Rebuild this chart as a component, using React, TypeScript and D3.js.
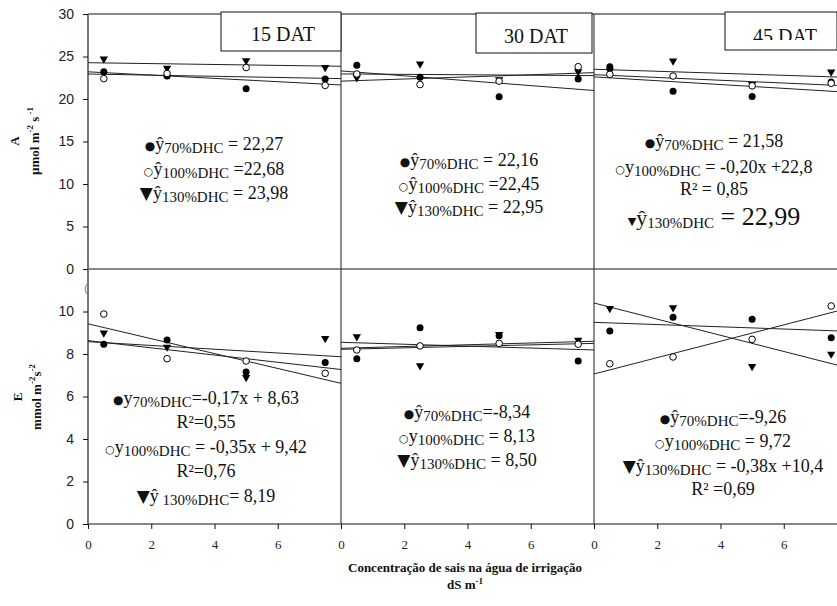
import React, { useEffect, useRef } from "react";
import * as d3 from "d3";

const W = 837, H = 606;

// salt levels (dS m-1) where the points sit
const salinity = [0.5, 2.5, 5, 7.5];
const xTicks = [0, 2, 4, 6];
const aTicks = [0, 5, 10, 15, 20, 25, 30];
const eTicks = [0, 2, 4, 6, 8, 10];
const dayLabels = ["15 DAT", "30 DAT", "45 DAT"];

// A (umol m-2 s-1), one row per DAT panel
const a70 = [[23.2, 22.7, 21.2, 22.35], [23.96, 22.55, 20.27, 22.35], [23.8, 20.9, 20.3, 22.0]];
const a100 = [[22.4, 23.0, 23.7, 21.6], [22.94, 21.7, 22.1, 23.8], [22.9, 22.7, 21.55, 21.85]];
const a130 = [[24.6, 23.5, 24.4, 23.6], [22.4, 24.0, 22.15, 23.1], [23.2, 24.35, 21.6, 23.06]];
// fitted lines, value at x=0 and x=8
const aFits = [
  [[24.27, 23.85], [23.2, 21.65], [22.94, 22.4]],
  [[23.3, 21.0], [22.95, 22.75], [22.1, 23.1]],
  [[23.5, 22.55], [22.86, 21.55], [22.6, 20.8]],
];

// E (mmol m-2 s-1)
const e70 = [[8.46, 8.66, 7.15, 7.6], [7.78, 9.24, 8.86, 7.67], [9.08, 9.73, 9.63, 8.77]];
const e100 = [[9.88, 7.78, 7.67, 7.09], [8.19, 8.38, 8.5, 8.46], [7.54, 7.86, 8.69, 10.26]];
const e130 = [[8.94, 8.28, 6.85, 8.69], [8.77, 7.4, 8.88, 8.61], [10.1, 10.13, 7.37, 7.95]];
const eFits = [
  [[8.63, 7.27], [9.42, 6.62], [8.58, 7.87]],
  [[8.55, 8.19], [8.27, 8.6], [8.22, 8.5]],
  [[9.49, 9.07], [7.06, 10.14], [10.4, 7.36]],
];

// equation texts: [marker, y symbol, subscript, rest]
const aNotes = [
  [["●", "ŷ", "70%DHC", " = 22,27"], ["○", "ŷ", "100%DHC", " =22,68"], ["▼", "ŷ", "130%DHC", " = 23,98"]],
  [["●", "ŷ", "70%DHC", " = 22,16"], ["○", "ŷ", "100%DHC", " =22,45"], ["▼", "ŷ", "130%DHC", " = 22,95"]],
  [["●", "ŷ", "70%DHC", " = 21,58"], ["○", "y", "100%DHC", " = -0,20x +22,8"], ["", "", "", "R² = 0,85"], ["▼", "ŷ", "130%DHC", " = 22,99"]],
];
const eNotes = [
  [["●", "y", "70%DHC", "=-0,17x + 8,63"], ["", "", "", "R²=0,55"], ["○", "y", "100%DHC", " = -0,35x + 9,42"], ["", "", "", "R²=0,76"], ["▼", "ŷ", " 130%DHC", "= 8,19"]],
  [["●", "ŷ", "70%DHC", "=-8,34"], ["○", "y", "100%DHC", " = 8,13"], ["▼", "ŷ", "130%DHC", " = 8,50"]],
  [["●", "ŷ", "70%DHC", "=-9,26"], ["○", "y", "100%DHC", " = 9,72"], ["▼", "ŷ", "130%DHC", " = -0,38x +10,4"], ["", "", "", "R² =0,69"]],
];

// layout
const lefts = [88, 341, 594];
const pw = 253;
const topY = 14, midY = 269, botY = 524;
const serif = "Liberation Serif, Times New Roman, serif";
const sans = "Liberation Sans, Arial, sans-serif";
const aNoteCx = [214, 469, 714];
const aNoteY = [[150, 175, 199], [166, 190, 213], [147, 173, 195, 225]];
const eNoteCx = [206, 467, 723];
const eNoteY = [[404, 428, 453, 477, 502], [418, 442, 466], [423, 447, 472, 495]];
const boxes = [[221, 12, 120, 39, 283, 41], [476, 13, 116, 40, 536, 43], [725, 12, 112, 38, 785, 43]];

export default function App() {
  const ref = useRef<SVGSVGElement>(null);

  useEffect(() => {
    const svg = d3.select(ref.current);
    svg.selectAll("*").remove();
    svg.append("rect").attr("width", W).attr("height", H).attr("fill", "#fff");

    svg.append("clipPath").attr("id", "plotclip")
      .append("rect").attr("x", 0).attr("y", 0).attr("width", W).attr("height", H);

    const yA = d3.scaleLinear().domain([0, 30]).range([midY, topY]);
    const yE = d3.scaleLinear().domain([0, 12]).range([botY, midY]);

    // frame lines
    [topY, midY, botY].forEach(y => {
      svg.append("line").attr("x1", 88).attr("x2", W).attr("y1", y).attr("y2", y)
        .attr("stroke", "#111").attr("stroke-width", 1);
    });
    lefts.forEach((l, i) => {
      svg.append("line").attr("x1", l).attr("x2", l).attr("y1", topY).attr("y2", botY)
        .attr("stroke", i == 0 ? "#777" : "#444").attr("stroke-width", i == 0 ? 2 : 1.2);
    });

    // y axes
    const ay = svg.append("g").attr("transform", "translate(88,0)")
      .call(d3.axisLeft(yA).tickValues(aTicks).tickSize(5).tickPadding(9).tickFormat(d3.format("d")));
    const ey = svg.append("g").attr("transform", "translate(88,0)")
      .call(d3.axisLeft(yE).tickValues(eTicks).tickSize(5).tickPadding(9).tickFormat(d3.format("d")));
    [ay, ey].forEach(g => {
      g.attr("font-family", sans).attr("font-size", 14);
      g.select(".domain").remove();
      g.selectAll("line").attr("stroke", "#111");
      g.selectAll("text").attr("fill", "#222");
    });
    // little clipped glyph under the 0
    svg.append("text").attr("x", 84).attr("y", 292).attr("font-family", sans).attr("font-size", 11)
      .attr("fill", "#777").text("(");

    lefts.forEach((left, p) => {
      const x = d3.scaleLinear().domain([0, 8]).range([left, left + pw]);

      const xa = svg.append("g").attr("transform", `translate(0,${botY})`)
        .call(d3.axisBottom(x).tickValues(xTicks).tickSize(5).tickPadding(11).tickFormat(d3.format("d")));
      xa.attr("font-family", serif).attr("font-size", 13);
      xa.select(".domain").remove();
      xa.selectAll("line").attr("stroke", "#111");
      xa.selectAll("text").attr("fill", "#222");

      const line = (ys: d3.ScaleLinear<number, number>) => d3.line<number[]>().x(d => x(d[0])).y(d => ys(d[1]));

      const g = svg.append("g").attr("clip-path", "url(#plotclip)");
      aFits[p].forEach(f => {
        g.append("path").attr("d", line(yA)([[0, f[0]], [8, f[1]]]))
          .attr("fill", "none").attr("stroke", "#222").attr("stroke-width", 1);
      });
      eFits[p].forEach(f => {
        g.append("path").attr("d", line(yE)([[0, f[0]], [8, f[1]]]))
          .attr("fill", "none").attr("stroke", "#222").attr("stroke-width", 1);
      });

      const tri = d3.symbol(d3.symbolTriangle, 30);
      const drawPts = (ys: d3.ScaleLinear<number, number>, v70: number[], v100: number[], v130: number[]) => {
        salinity.forEach((s, i) => {
          g.append("path").attr("d", tri())
            .attr("transform", `translate(${x(s)},${ys(v130[i]) - 1}) rotate(180)`).attr("fill", "#000");
        });
        salinity.forEach((s, i) => {
          g.append("circle").attr("cx", x(s)).attr("cy", ys(v70[i])).attr("r", 3.5).attr("fill", "#000");
        });
        salinity.forEach((s, i) => {
          g.append("circle").attr("cx", x(s)).attr("cy", ys(v100[i])).attr("r", 3.3)
            .attr("fill", "#fff").attr("stroke", "#000").attr("stroke-width", 1);
        });
      };
      drawPts(yA, a70[p], a100[p], a130[p]);
      drawPts(yE, e70[p], e100[p], e130[p]);
    });

    // equation blocks
    const markSize: Record<string, number> = { "●": 12, "○": 11, "▼": 17 };
    const note = (cx: number, y: number, parts: string[], big: boolean) => {
      const t = svg.append("text").attr("x", cx).attr("y", y).attr("text-anchor", "middle")
        .attr("font-family", serif).attr("font-size", 18).attr("fill", "#111");
      const [m, yy, sub, rest] = parts;
      if (m) t.append("tspan").attr("font-family", "DejaVu Sans, sans-serif")
        .attr("font-size", big ? 11 : markSize[m]).text(m);
      if (yy) t.append("tspan").attr("font-size", big ? 22 : 18).text(yy);
      if (sub) t.append("tspan").attr("dy", 3).attr("font-size", 15).text(sub);
      t.append("tspan").attr("dy", sub ? -3 : 0).attr("font-size", big ? 26 : 18).text(rest);
    };
    aNotes.forEach((lines, p) => lines.forEach((l, i) => note(aNoteCx[p], aNoteY[p][i], l, p == 2 && i == 3)));
    eNotes.forEach((lines, p) => lines.forEach((l, i) => note(eNoteCx[p], eNoteY[p][i], l, false)));

    // DAT boxes
    svg.append("clipPath").attr("id", "boxclip")
      .append("rect").attr("x", 0).attr("y", 0).attr("width", W).attr("height", 40);
    boxes.forEach((b, i) => {
      svg.append("rect").attr("x", b[0]).attr("y", b[1]).attr("width", b[2]).attr("height", b[3])
        .attr("fill", "#fff").attr("stroke", "#111").attr("stroke-width", 1);
      svg.append("text").attr("x", b[4]).attr("y", b[5]).attr("text-anchor", "middle")
        .attr("clip-path", i == 2 ? "url(#boxclip)" : null)
        .attr("font-family", serif).attr("font-size", 20).attr("fill", "#111").text(dayLabels[i]);
    });

    // axis titles
    const rot = (x: number, y: number) => svg.append("text").attr("transform", `translate(${x},${y}) rotate(-90)`)
      .attr("text-anchor", "middle").attr("font-family", serif).attr("font-size", 13)
      .attr("font-weight", "bold").attr("fill", "#111");
    rot(19, 141).text("A");
    const u1 = rot(39, 141);
    u1.append("tspan").text("µmol m");
    u1.append("tspan").attr("dy", -6).attr("font-size", 9).text("-2");
    u1.append("tspan").attr("dy", 6).text(" s");
    u1.append("tspan").attr("dy", -6).attr("font-size", 9).text(" -1");
    rot(22, 397).text("E");
    const u2 = rot(41, 397);
    u2.append("tspan").text("mmol m");
    u2.append("tspan").attr("dy", -6).attr("font-size", 9).text("-2");
    u2.append("tspan").attr("dy", 6).text("s");
    u2.append("tspan").attr("dy", -6).attr("font-size", 9).text("-2");

    svg.append("text").attr("x", 465).attr("y", 572).attr("text-anchor", "middle")
      .attr("font-family", serif).attr("font-size", 13).attr("font-weight", "bold").attr("fill", "#111")
      .text("Concentração de sais na água de irrigação");
    const ds = svg.append("text").attr("x", 465).attr("y", 589).attr("text-anchor", "middle")
      .attr("font-family", serif).attr("font-size", 13).attr("font-weight", "bold").attr("fill", "#111");
    ds.append("tspan").text("dS m");
    ds.append("tspan").attr("dy", -5).attr("font-size", 9).text("-1");
  }, []);

  return (
    <svg ref={ref} width={W} height={H}
      style={{ position: "absolute", left: 0, top: 0, display: "block" }} />
  );
}
